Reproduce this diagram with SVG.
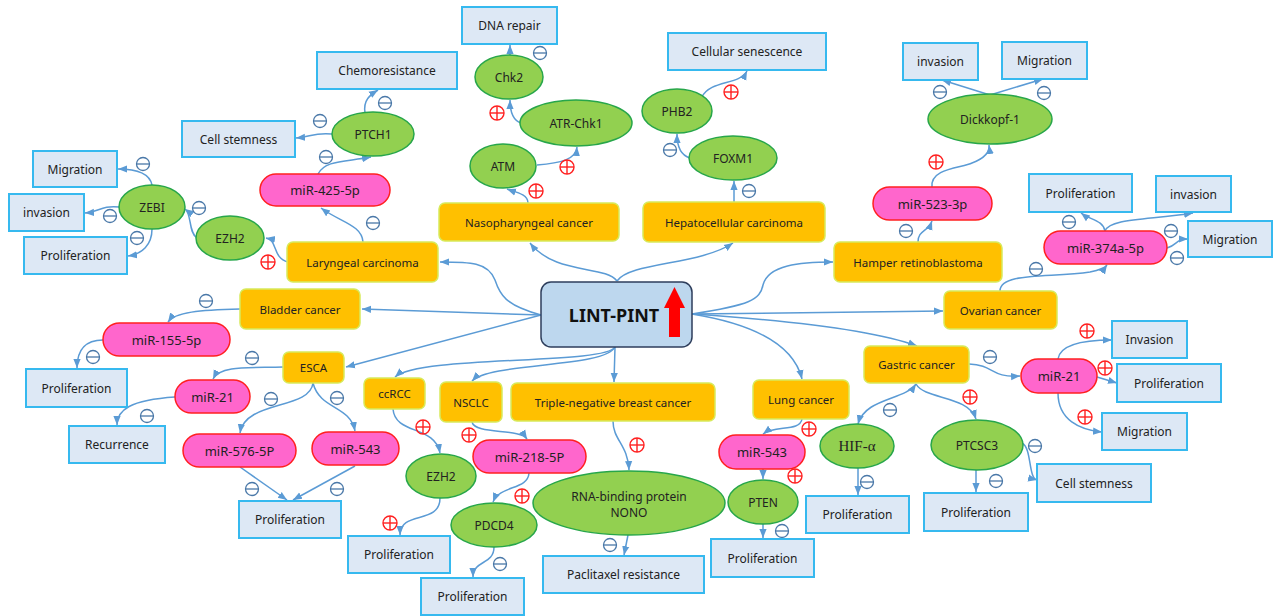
<svg xmlns="http://www.w3.org/2000/svg" xmlns:xlink="http://www.w3.org/1999/xlink" width="1286" height="616" viewBox="0 0 1286 616">
<style>
text{font-family:"Noto Sans","Liberation Sans",sans-serif;font-size:12px;fill:#222;text-anchor:middle;dominant-baseline:central}
.b rect{fill:#dde8f5;stroke:#36b9ef;stroke-width:2}
.y rect{fill:#ffc000;stroke:#d7ea5c;stroke-width:1.5}
.y text{font-size:11.5px}
.p rect{fill:#ff66cc;stroke:#ff2020;stroke-width:1.5}
.p text{font-size:13px}
.g ellipse{fill:#92d050;stroke:#27a64a;stroke-width:1.5}
#conn path{fill:none;stroke:#5b9bd5;stroke-width:1.5;marker-end:url(#ah)}
.mi circle,.mi line{fill:none;stroke:#4a78a8;stroke-width:1.3}
.pl circle,.pl line{fill:none;stroke:#ff2020;stroke-width:1.4}
</style>
<defs>
<marker id="ah" viewBox="0 0 10 10" markerUnits="userSpaceOnUse" markerWidth="9" markerHeight="9" refX="10" refY="5" orient="auto-start-reverse"><path d="M0,1 L10,5 L0,9 z" fill="#5b9bd5"/></marker>
<g id="mi" class="mi"><circle r="6.5"/><line x1="-6.5" y1="0" x2="6.5" y2="0"/></g>
<g id="pl" class="pl"><circle r="7"/><line x1="-7" y1="0" x2="7" y2="0"/><line x1="0" y1="-7" x2="0" y2="7"/></g>
</defs>
<rect width="1286" height="616" fill="#fff"/>

<g id="conn">
<path d="M541,315 C505,305 500,295 495,280 C488,262 470,262 440,262"/>
<path d="M541,315 L362,309"/>
<path d="M541,315 L346,367"/>
<path d="M617,281 C605,265 555,275 530,243"/>
<path d="M617,281 C630,262 700,265 733,243"/>
<path d="M692,314 C750,305 760,300 763,285 C768,265 800,262 833,262"/>
<path d="M692,314 L943,311"/>
<path d="M692,314 Q860,325 917,346"/>
<path d="M692,314 Q790,330 802,379"/>
<path d="M615,347 C605,365 420,355 395,377"/>
<path d="M615,347 C605,368 490,362 472,381"/>
<path d="M615,347 L614,382"/>
<path d="M288,262 C272,258 278,240 266,238"/>
<path d="M197,238 C188,232 192,214 185,209"/>
<path d="M152,185 C150,175 140,169 118,169"/>
<path d="M120,207 C100,205 100,212 85,213"/>
<path d="M152,229 C152,245 142,254 128,256"/>
<path d="M363,242 C362,225 340,222 321,208"/>
<path d="M318,174 C325,160 345,162 371,157"/>
<path d="M332,134 C315,132 310,137 296,138"/>
<path d="M365,113 C363,100 370,95 378,90"/>
<path d="M528,203 C528,194 515,192 507,189"/>
<path d="M537,165 C560,163 576,160 577,147"/>
<path d="M521,123 C512,120 510,110 510,100"/>
<path d="M510,56 L510,45"/>
<path d="M734,202 L734,181"/>
<path d="M690,158 C680,155 677,145 677,134"/>
<path d="M702,97 C710,80 740,85 747,71"/>
<path d="M918,242 C918,230 928,232 932,221"/>
<path d="M932,187 C930,168 962,168 972,163 C985,158 990,152 989,145"/>
<path d="M990,95 L942,80"/>
<path d="M990,95 L1043,79"/>
<path d="M1000,291 C1000,272 1050,278 1090,272 C1100,270 1105,268 1107,265"/>
<path d="M1105,231 C1103,220 1090,220 1081,213"/>
<path d="M1105,231 C1110,218 1150,220 1193,213"/>
<path d="M1167,248 C1178,245 1175,239 1188,239"/>
<path d="M969,364 C995,365 990,378 1020,376"/>
<path d="M1058,359 C1060,345 1080,340 1112,340"/>
<path d="M1097,377 L1117,383"/>
<path d="M1058,393 C1058,420 1080,430 1102,432"/>
<path d="M916,384 C905,400 865,398 858,424" style="marker-start:url(#ah)"/>
<path d="M916,384 C925,400 968,395 976,419"/>
<path d="M1022,443 C1032,448 1028,478 1037,480"/>
<path d="M976,470 L976,492"/>
<path d="M858,468 L858,495"/>
<path d="M802,419 C800,432 775,425 763,434"/>
<path d="M763,469 L763,479"/>
<path d="M763,524 L763,538"/>
<path d="M613,421 C613,440 628,445 629,470"/>
<path d="M628,535 L624,555"/>
<path d="M472,422 C475,435 520,428 527,439"/>
<path d="M529,473 C528,490 500,485 493,502"/>
<path d="M494,547 C494,565 473,560 473,577"/>
<path d="M393,409 C395,435 435,425 440,453"/>
<path d="M440,498 C440,525 400,510 400,535"/>
<path d="M283,367 C250,368 220,365 213,379"/>
<path d="M175,397 C130,400 117,410 117,425"/>
<path d="M313,383 C310,410 245,400 240,433"/>
<path d="M313,383 C320,410 350,405 355,431"/>
<path d="M240,467 L287,500"/>
<path d="M355,466 L293,500"/>
<path d="M240,309 C200,310 175,312 168,322"/>
<path d="M103,340 C85,340 77,350 77,368"/>
</g>

<g id="signs">
<use href="#mi" x="143" y="164"/><use href="#mi" x="110" y="216"/><use href="#mi" x="137" y="238"/>
<use href="#mi" x="199" y="208"/><use href="#mi" x="206" y="301"/><use href="#mi" x="93" y="357"/>
<use href="#mi" x="252" y="358"/><use href="#mi" x="147" y="416"/><use href="#mi" x="271" y="399"/>
<use href="#mi" x="337" y="398"/><use href="#mi" x="252" y="489"/><use href="#mi" x="337" y="489"/>
<use href="#mi" x="320" y="121"/><use href="#mi" x="326" y="157"/><use href="#mi" x="373" y="223"/>
<use href="#mi" x="385" y="103"/><use href="#mi" x="540" y="53"/><use href="#mi" x="749" y="191"/>
<use href="#mi" x="670" y="150"/><use href="#mi" x="906" y="231"/><use href="#mi" x="940" y="92"/>
<use href="#mi" x="1044" y="93"/><use href="#mi" x="1036" y="269"/><use href="#mi" x="1069" y="222"/>
<use href="#mi" x="1171" y="231"/><use href="#mi" x="1177" y="258"/><use href="#mi" x="990" y="357"/>
<use href="#mi" x="890" y="410"/><use href="#mi" x="1035" y="446"/><use href="#mi" x="996" y="481"/>
<use href="#mi" x="867" y="482"/><use href="#mi" x="782" y="531"/><use href="#mi" x="610" y="545"/>
<use href="#mi" x="500" y="564"/>
<use href="#pl" x="268" y="262"/><use href="#pl" x="536" y="191"/><use href="#pl" x="567" y="167"/>
<use href="#pl" x="497" y="113"/><use href="#pl" x="731" y="92"/><use href="#pl" x="936" y="162"/>
<use href="#pl" x="970" y="397"/><use href="#pl" x="1087" y="331"/><use href="#pl" x="1105" y="368"/>
<use href="#pl" x="1085" y="417"/><use href="#pl" x="809" y="429"/><use href="#pl" x="795" y="476"/>
<use href="#pl" x="637" y="445"/><use href="#pl" x="469" y="435"/><use href="#pl" x="522" y="496"/>
<use href="#pl" x="423" y="427"/><use href="#pl" x="390" y="523"/>
</g>

<g id="center">
<rect x="541" y="282" width="151" height="65" rx="10" fill="#bdd7ee" stroke="#2e3e5c" stroke-width="1.5"/>
<text x="614" y="315" style="font-size:18px;font-weight:bold;fill:#111">LINT-PINT</text>
<polygon points="674.5,287 685,308 680,308 680,337 669,337 669,308 664,308" fill="#ff0000"/>
</g>

<g id="y1" class="y"><rect x="287" y="242" width="151" height="40" rx="6"/><text x="362.5" y="262">Laryngeal carcinoma</text></g>
<g id="y2" class="y"><rect x="240" y="289" width="120" height="40" rx="6"/><text x="300" y="309">Bladder cancer</text></g>
<g id="y3" class="y"><rect x="283" y="352" width="61" height="31" rx="6"/><text x="313.5" y="367.5">ESCA</text></g>
<g id="y4" class="y"><rect x="364" y="378" width="61" height="31" rx="6"/><text x="394.5" y="393.5">ccRCC</text></g>
<g id="y5" class="y"><rect x="440" y="382" width="62" height="40" rx="6"/><text x="471" y="402">NSCLC</text></g>
<g id="y6" class="y"><rect x="511" y="383" width="204" height="38" rx="6"/><text x="613" y="402">Triple-negative breast cancer</text></g>
<g id="y7" class="y"><rect x="439" y="203" width="180" height="38" rx="6"/><text x="529" y="222">Nasopharyngeal cancer</text></g>
<g id="y8" class="y"><rect x="643" y="202" width="182" height="40" rx="6"/><text x="734" y="222">Hepatocellular carcinoma</text></g>
<g id="y9" class="y"><rect x="834" y="242" width="168" height="40" rx="6"/><text x="918" y="262">Hamper retinoblastoma</text></g>
<g id="y10" class="y"><rect x="944" y="291" width="113" height="38" rx="6"/><text x="1000.5" y="310">Ovarian cancer</text></g>
<g id="y11" class="y"><rect x="864" y="346" width="105" height="37" rx="6"/><text x="916.5" y="364.5">Gastric cancer</text></g>
<g id="y12" class="y"><rect x="753" y="380" width="96" height="39" rx="6"/><text x="801" y="399.5">Lung cancer</text></g>

<g id="p1" class="p"><rect x="260" y="174" width="130" height="32" rx="16"/><text x="325" y="190">miR-425-5p</text></g>
<g id="p2" class="p"><rect x="103" y="323" width="127" height="33" rx="16.5"/><text x="166.5" y="339.5">miR-155-5p</text></g>
<g id="p3" class="p"><rect x="175" y="380" width="75" height="33" rx="16.5"/><text x="212.5" y="396.5">miR-21</text></g>
<g id="p4" class="p"><rect x="183" y="434" width="113" height="33" rx="16.5"/><text x="239.5" y="450.5">miR-576-5P</text></g>
<g id="p5" class="p"><rect x="312" y="432" width="87" height="33" rx="16.5"/><text x="355.5" y="448.5">miR-543</text></g>
<g id="p6" class="p"><rect x="473" y="440" width="113" height="33" rx="16.5"/><text x="529.5" y="456.5">miR-218-5P</text></g>
<g id="p7" class="p"><rect x="719" y="435" width="86" height="34" rx="17"/><text x="762" y="452">miR-543</text></g>
<g id="p8" class="p"><rect x="873" y="187" width="119" height="33" rx="16.5"/><text x="932.5" y="203.5">miR-523-3p</text></g>
<g id="p9" class="p"><rect x="1044" y="231" width="123" height="33" rx="16.5"/><text x="1105.5" y="247.5">miR-374a-5p</text></g>
<g id="p10" class="p"><rect x="1021" y="359" width="76" height="34" rx="17"/><text x="1059" y="376">miR-21</text></g>

<g id="g1" class="g"><ellipse cx="152" cy="207" rx="33" ry="22"/><text x="152" y="207">ZEBI</text></g>
<g id="g2" class="g"><ellipse cx="230" cy="238" rx="34" ry="22"/><text x="230" y="238">EZH2</text></g>
<g id="g3" class="g"><ellipse cx="373" cy="134" rx="41" ry="22"/><text x="373" y="134">PTCH1</text></g>
<g id="g4" class="g"><ellipse cx="509" cy="77" rx="34" ry="22"/><text x="509" y="77">Chk2</text></g>
<g id="g5" class="g"><ellipse cx="576" cy="123" rx="56" ry="23"/><text x="576" y="123">ATR-Chk1</text></g>
<g id="g6" class="g"><ellipse cx="503" cy="166" rx="33" ry="22"/><text x="503" y="166">ATM</text></g>
<g id="g7" class="g"><ellipse cx="677" cy="111" rx="35" ry="22"/><text x="677" y="111">PHB2</text></g>
<g id="g8" class="g"><ellipse cx="733" cy="158" rx="44" ry="22"/><text x="733" y="158">FOXM1</text></g>
<g id="g9" class="g"><ellipse cx="990" cy="119" rx="62" ry="25"/><text x="990" y="119">Dickkopf-1</text></g>
<g id="g10" class="g"><ellipse cx="441" cy="476" rx="35" ry="22"/><text x="441" y="476">EZH2</text></g>
<g id="g11" class="g"><ellipse cx="494" cy="525" rx="43" ry="22"/><text x="494" y="525">PDCD4</text></g>
<g id="g12" class="g"><ellipse cx="629" cy="503" rx="96" ry="32"/><text x="629" y="496">RNA-binding protein</text><text x="629" y="512">NONO</text></g>
<g id="g13" class="g"><ellipse cx="763" cy="502" rx="35" ry="22"/><text x="763" y="502">PTEN</text></g>
<g id="g14" class="g"><ellipse cx="857" cy="446" rx="37" ry="22"/><text x="857" y="446" style="font-family:'Liberation Serif',serif;font-size:15px">HIF-α</text></g>
<g id="g15" class="g"><ellipse cx="977" cy="445" rx="46" ry="25"/><text x="977" y="445">PTCSC3</text></g>

<g id="b1" class="b"><rect x="33" y="151" width="84" height="36"/><text x="75" y="169">Migration</text></g>
<g id="b2" class="b"><rect x="9" y="194" width="75" height="37"/><text x="46.5" y="212.5">invasion</text></g>
<g id="b3" class="b"><rect x="24" y="237" width="103" height="37"/><text x="75.5" y="255.5">Proliferation</text></g>
<g id="b4" class="b"><rect x="182" y="121" width="113" height="36"/><text x="238.5" y="139">Cell stemness</text></g>
<g id="b5" class="b"><rect x="317" y="52" width="140" height="37"/><text x="387" y="70.5">Chemoresistance</text></g>
<g id="b6" class="b"><rect x="462" y="7" width="95" height="37"/><text x="509.5" y="25.5">DNA repair</text></g>
<g id="b7" class="b"><rect x="668" y="33" width="158" height="37"/><text x="747" y="51.5">Cellular senescence</text></g>
<g id="b8" class="b"><rect x="903" y="43" width="75" height="37"/><text x="940.5" y="61.5">invasion</text></g>
<g id="b9" class="b"><rect x="1002" y="42" width="85" height="37"/><text x="1044.5" y="60.5">Migration</text></g>
<g id="b10" class="b"><rect x="1029" y="174" width="103" height="38"/><text x="1080.5" y="193">Proliferation</text></g>
<g id="b11" class="b"><rect x="1156" y="176" width="75" height="36"/><text x="1193.5" y="194">invasion</text></g>
<g id="b12" class="b"><rect x="1188" y="221" width="84" height="36"/><text x="1230" y="239">Migration</text></g>
<g id="b13" class="b"><rect x="1112" y="321" width="75" height="37"/><text x="1149.5" y="339.5">Invasion</text></g>
<g id="b14" class="b"><rect x="1117" y="364" width="104" height="38"/><text x="1169" y="383">Proliferation</text></g>
<g id="b15" class="b"><rect x="1102" y="413" width="85" height="37"/><text x="1144.5" y="431.5">Migration</text></g>
<g id="b16" class="b"><rect x="1037" y="464" width="114" height="38"/><text x="1094" y="483">Cell stemness</text></g>
<g id="b17" class="b"><rect x="924" y="493" width="104" height="38"/><text x="976" y="512">Proliferation</text></g>
<g id="b18" class="b"><rect x="806" y="496" width="103" height="37"/><text x="857.5" y="514.5">Proliferation</text></g>
<g id="b19" class="b"><rect x="711" y="539" width="103" height="38"/><text x="762.5" y="558">Proliferation</text></g>
<g id="b20" class="b"><rect x="543" y="556" width="161" height="37"/><text x="623.5" y="574.5">Paclitaxel resistance</text></g>
<g id="b21" class="b"><rect x="421" y="578" width="103" height="37"/><text x="472.5" y="596.5">Proliferation</text></g>
<g id="b22" class="b"><rect x="348" y="536" width="102" height="37"/><text x="399" y="554.5">Proliferation</text></g>
<g id="b23" class="b"><rect x="239" y="501" width="102" height="37"/><text x="290" y="519.5">Proliferation</text></g>
<g id="b24" class="b"><rect x="69" y="426" width="96" height="37"/><text x="117" y="444.5">Recurrence</text></g>
<g id="b25" class="b"><rect x="26" y="369" width="101" height="38"/><text x="76.5" y="388">Proliferation</text></g>
</svg>
